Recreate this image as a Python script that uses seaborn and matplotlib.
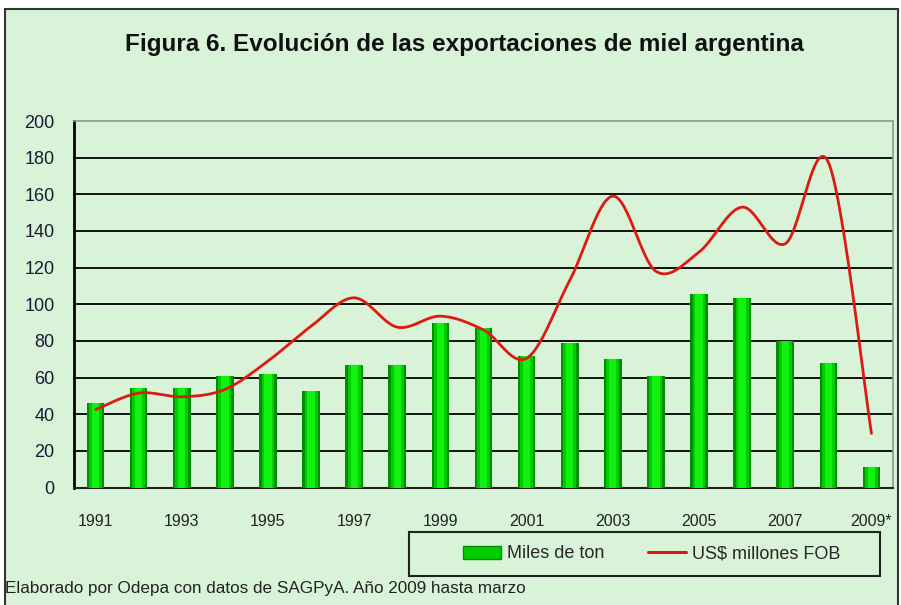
import numpy as np
import pandas as pd
import matplotlib
matplotlib.use('Agg')
import matplotlib.pyplot as plt
from matplotlib.patches import Rectangle, Patch
from matplotlib.lines import Line2D
import seaborn as sns

# data
years = ['1991', '1992', '1993', '1994', '1995', '1996', '1997', '1998', '1999', '2000',
         '2001', '2002', '2003', '2004', '2005', '2006', '2007', '2008', '2009*']
miles_ton = [46, 54.5, 54.5, 61, 62, 52.5, 67, 67, 90, 87,
             72, 79, 70, 61, 105.5, 103.5, 80, 68, 11]
usd_fob = [42.5, 51.5, 49.5, 53.5, 69, 88, 103.5, 87.5, 93.5, 86,
           70.5, 113, 159, 118, 128.5, 153, 133, 177.5, 29.5]
yticks = list(range(0, 201, 20))

df = pd.DataFrame({'year': years, 'ton': miles_ton, 'usd': usd_fob})

BG = '#d8f3d8'

sns.set_style('white')
plt.rcParams['font.family'] = ['Liberation Sans', 'DejaVu Sans']


def smooth_curve(xs, ys, n=30):
    # excel-like smoothed line (bezier through the points)
    pts = np.column_stack([xs, ys]).astype(float)
    out = []
    for i in range(len(pts) - 1):
        p0 = pts[i - 1] if i > 0 else pts[i]
        p1, p2 = pts[i], pts[i + 1]
        p3 = pts[i + 2] if i + 2 < len(pts) else pts[i + 1]
        c1 = p1 + (p2 - p0) / 6
        c2 = p2 - (p3 - p1) / 6
        t = np.linspace(0, 1, n)[:, None]
        seg = (1 - t) ** 3 * p1 + 3 * (1 - t) ** 2 * t * c1 + 3 * (1 - t) * t ** 2 * c2 + t ** 3 * p2
        out.append(seg if i == 0 else seg[1:])
    out = np.vstack(out)
    return out[:, 0], out[:, 1]


fig = plt.figure(figsize=(9.01, 6.05), dpi=100)
fig.patch.set_facecolor('white')
fig.patches.append(Rectangle((5 / 901, -0.01), 893 / 901, 1 - 9 / 605 + 0.01,
                             transform=fig.transFigure, facecolor=BG,
                             edgecolor='#333333', linewidth=1.5, zorder=-5))

ax = fig.add_axes([74 / 901, 1 - 487.5 / 605, 819 / 901, 366.5 / 605])
ax.set_facecolor(BG)

# bars with a simple shaded look
sns.barplot(data=df, x='year', y='ton', color='#008f00', width=0.41, saturation=1,
            linewidth=0, ax=ax, zorder=3)
sns.barplot(data=df, x='year', y='ton', color='#00cc00', width=0.3, saturation=1,
            linewidth=0, ax=ax, zorder=4)
sns.barplot(data=df, x='year', y='ton', color='#12f212', width=0.17, saturation=1,
            linewidth=0, ax=ax, zorder=5)

lx, ly = smooth_curve(np.arange(len(years)), usd_fob)
ax.plot(lx, ly, color='#dd1a10', linewidth=2.0, zorder=6, solid_capstyle='round')

ax.set_xlim(-0.5, len(years) - 0.5)
ax.set_ylim(0, 200)
ax.set_yticks(yticks)
ax.set_yticklabels([str(v) for v in yticks], fontsize=13, color='#1a1a33')
for v in yticks[1:-1]:
    ax.axhline(v, color='black', linewidth=1.3, zorder=1)

ax.set_xticks(range(0, len(years), 2))
ax.set_xticklabels(years[::2], fontsize=11.5, color='#222222')
ax.set_xticks(np.arange(-0.5, len(years), 1), minor=True)
ax.tick_params(axis='x', which='major', length=0, pad=19)
ax.tick_params(axis='x', which='minor', length=6, width=1.2, color='black', direction='out')
ax.tick_params(axis='y', length=6, width=1.2, color='black', direction='out', pad=8)
ax.set_xlabel('')
ax.set_ylabel('')

for s in ['top', 'right']:
    ax.spines[s].set_visible(True)
    ax.spines[s].set_color('#8a9a8a')
    ax.spines[s].set_linewidth(1.2)
ax.spines['left'].set_color('black')
ax.spines['left'].set_linewidth(2)
ax.spines['bottom'].set_color('#222222')
ax.spines['bottom'].set_linewidth(1.5)

fig.text(464 / 901, 1 - 45 / 605, 'Figura 6. Evolución de las exportaciones de miel argentina',
         ha='center', va='center', fontsize=17.5, fontweight='bold', color='#111111')

# legend box drawn by hand, entries placed inside it
fig.patches.append(Rectangle((409 / 901, 1 - 576 / 605), 471 / 901, 44 / 605,
                             transform=fig.transFigure, facecolor='none',
                             edgecolor='#222222', linewidth=1.5, zorder=5))
handles = [Patch(facecolor='#00cc00', edgecolor='#008f00'),
           Line2D([0], [0], color='#dd1a10', linewidth=2.2)]
leg = fig.legend(handles, ['Miles de ton', 'US$ millones FOB'], ncol=2,
                 loc='center', bbox_to_anchor=(652 / 901, 1 - 554 / 605),
                 frameon=False, fontsize=13, handlelength=2.1,
                 columnspacing=2.4, handletextpad=0.35, borderaxespad=0)

fig.text(5 / 901, 1 - 589 / 605, 'Elaborado por Odepa con datos de SAGPyA. Año 2009 hasta marzo',
         ha='left', va='center', fontsize=12.3, color='#222222')

plt.savefig('out.png', dpi=100, facecolor=fig.get_facecolor())
